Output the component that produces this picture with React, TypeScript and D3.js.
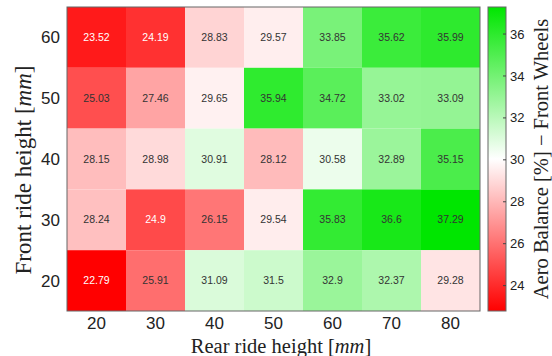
import React from "react";
import * as d3 from "d3";

// rear ride height (x) and front ride height (y), both in mm
const rearHeights = [20, 30, 40, 50, 60, 70, 80];
const frontHeights = [60, 50, 40, 30, 20];

// aero balance (% on front wheels), one array per front ride height
const front60 = [23.52, 24.19, 28.83, 29.57, 33.85, 35.62, 35.99];
const front50 = [25.03, 27.46, 29.65, 35.94, 34.72, 33.02, 33.09];
const front40 = [28.15, 28.98, 30.91, 28.12, 30.58, 32.89, 35.15];
const front30 = [28.24, 24.9, 26.15, 29.54, 35.83, 36.6, 37.29];
const front20 = [22.79, 25.91, 31.09, 31.5, 32.9, 32.37, 29.28];

const barTicks = [24, 26, 28, 30, 32, 34, 36];

const W = 552;
const H = 356;
const heat = { left: 67, right: 480, top: 7, bottom: 311 };
const bar = { left: 488, width: 18 };

const rows = [front60, front50, front40, front30, front20];

export default function App() {
  const cells = rows.flatMap((vals, r) =>
    vals.map((v, c) => ({ front: frontHeights[r], rear: rearHeights[c], v }))
  );
  const lo = d3.min(cells, (d) => d.v) as number;
  const hi = d3.max(cells, (d) => d.v) as number;

  const x = d3
    .scaleBand<number>()
    .domain(rearHeights)
    .range([heat.left, heat.right]);
  const y = d3
    .scaleBand<number>()
    .domain(frontHeights)
    .range([heat.top, heat.bottom]);
  const color = d3
    .scaleLinear<string>()
    .domain([lo, (lo + hi) / 2, hi])
    .range(["#ff0000", "#ffffff", "#00e600"])
    .interpolate(d3.interpolateRgb);
  const cy = d3.scaleLinear().domain([lo, hi]).range([heat.bottom, heat.top]);

  const stops = d3.range(0, 11).map((i) => {
    const t = i / 10;
    return { off: t, c: color(lo + (hi - lo) * t) };
  });

  const serif = "'Liberation Serif', 'DejaVu Serif', serif";
  const sans = "'Liberation Sans', Arial, sans-serif";

  return (
    <svg
      width={W}
      height={H}
      style={{ position: "absolute", left: 0, top: 0, background: "#fff" }}
    >
      <defs>
        <linearGradient id="cbar" x1="0" y1="1" x2="0" y2="0">
          {stops.map((s) => (
            <stop key={s.off} offset={s.off} stopColor={s.c} />
          ))}
        </linearGradient>
      </defs>

      {cells.map((d) => (
        <g key={`${d.front}-${d.rear}`}>
          <rect
            x={x(d.rear)}
            y={y(d.front)}
            width={x.bandwidth()}
            height={y.bandwidth()}
            fill={color(d.v)}
          />
          <text
            x={(x(d.rear) as number) + x.bandwidth() / 2}
            y={(y(d.front) as number) + y.bandwidth() / 2}
            dy="0.35em"
            textAnchor="middle"
            fontFamily={sans}
            fontSize={10.5}
            fill={d.v < 25 ? "#fff" : "#333"}
          >
            {d.v}
          </text>
        </g>
      ))}
      <rect
        x={heat.left}
        y={heat.top}
        width={heat.right - heat.left}
        height={heat.bottom - heat.top}
        fill="none"
        stroke="#666"
        strokeWidth={1}
      />

      {/* axis tick labels */}
      {rearHeights.map((r) => (
        <text
          key={r}
          x={(x(r) as number) + x.bandwidth() / 2}
          y={329}
          textAnchor="middle"
          fontFamily={sans}
          fontSize={17}
          fill="#222"
        >
          {r}
        </text>
      ))}
      {frontHeights.map((f) => (
        <text
          key={f}
          x={60}
          y={(y(f) as number) + y.bandwidth() / 2}
          dy="0.35em"
          textAnchor="end"
          fontFamily={sans}
          fontSize={17}
          fill="#222"
        >
          {f}
        </text>
      ))}

      <text
        x={281}
        y={353}
        textAnchor="middle"
        fontFamily={serif}
        fontSize={20.5}
        fill="#222"
      >
        Rear ride height [<tspan fontStyle="italic">mm</tspan>]
      </text>
      <text
        transform={`translate(31,${(heat.top + heat.bottom) / 2 + 11}) rotate(-90)`}
        textAnchor="middle"
        fontFamily={serif}
        fontSize={23}
        fill="#222"
      >
        Front ride height [<tspan fontStyle="italic">mm</tspan>]
      </text>

      {/* colorbar */}
      <rect
        x={bar.left}
        y={heat.top}
        width={bar.width}
        height={heat.bottom - heat.top}
        fill="url(#cbar)"
        stroke="#666"
        strokeWidth={1}
      />
      {barTicks.map((t) => (
        <g key={t}>
          <line
            x1={bar.left + bar.width - 3}
            x2={bar.left + bar.width}
            y1={cy(t)}
            y2={cy(t)}
            stroke="#444"
          />
          <text
            x={bar.left + bar.width + 4}
            y={cy(t)}
            dy="0.35em"
            fontFamily={sans}
            fontSize={13}
            fill="#222"
          >
            {t}
          </text>
        </g>
      ))}
      <text
        transform={`translate(548,${(heat.top + heat.bottom) / 2}) rotate(-90)`}
        textAnchor="middle"
        fontFamily={serif}
        fontSize={20.5}
        fill="#222"
      >
        Aero Balance [%] − Front Wheels
      </text>
    </svg>
  );
}
